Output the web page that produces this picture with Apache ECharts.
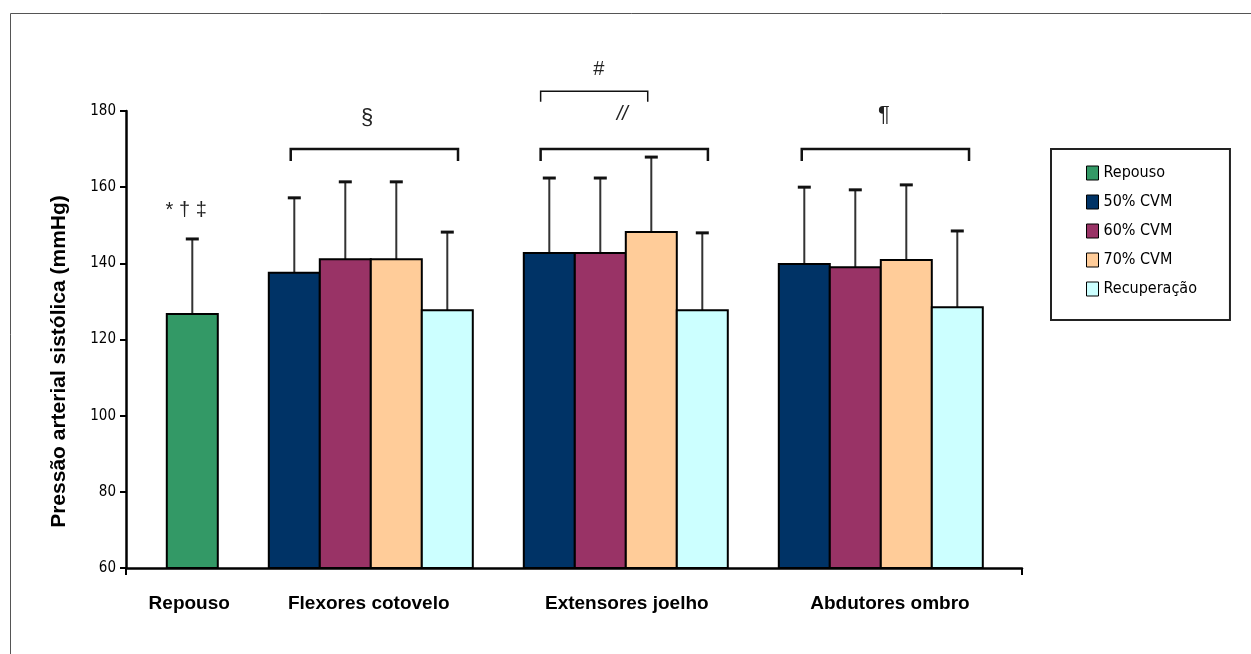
<!DOCTYPE html>
<html>
<head>
<meta charset="utf-8">
<script src="https://cdn.jsdelivr.net/npm/echarts@6/dist/echarts.min.js"></script>
<style>
html,body{margin:0;padding:0;background:#fff;}
#chart{width:1251px;height:654px;}
</style>
</head>
<body>
<div id="chart"></div>
<script>
// ---------- DATA ----------
const categories = ['Repouso', 'Flexores cotovelo', 'Extensores joelho', 'Abdutores ombro'];
const seriesNames = ['Repouso', '50% CVM', '60% CVM', '70% CVM', 'Recuperação'];
const repousoMean = [126.7];
const repousoSD = [19.7];
// order: Flexores cotovelo, Extensores joelho, Abdutores ombro
const cvm50Mean = [137.5, 142.7, 139.8];
const cvm50SD = [19.7, 19.7, 20.2];
const cvm60Mean = [141.1, 142.7, 139.0];
const cvm60SD = [20.3, 19.7, 20.3];
const cvm70Mean = [141.1, 148.2, 140.9];
const cvm70SD = [20.3, 19.7, 19.7];
const recMean = [127.7, 127.7, 128.5];
const recSD = [20.5, 20.3, 20.0];
const yTicks = [60, 80, 100, 120, 140, 160, 180];
const yAxisTitle = 'Pressão arterial sistólica (mmHg)';
const sigLabels = ['* † ‡', '§', '//', '#', '¶'];

// ---------- LAYOUT / STYLE ----------
const colors = ['#339966', '#003366', '#993366', '#FFCC99', '#CCFFFF'];
const GRID = {left: 126, right: 229, top: 111, bottom: 86};
const SLOT_PX = 51;
const X_MAX = (1251 - GRID.left - GRID.right) / SLOT_PX;
const GROUP_START = [0.8, 2.8, 7.8, 12.8];
const LABEL_POS = [1.24, 4.76, 9.82, 14.98];
// brackets: [xStart, xEnd, yLine, yTickEnd, lineWidth]
const BRACKETS = [
  [3.23, 6.51, 170.0, 166.9, 2.5],
  [8.13, 11.41, 170.0, 166.9, 2.5],
  [8.13, 10.23, 185.2, 182.4, 1.5],
  [13.25, 16.53, 170.0, 166.9, 2.5]
];
// sig labels: [x, y, fontSize]
const SIG_POS = [
  [1.18, 154.0, 20],
  [4.73, 178.2, 22],
  [9.73, 179.0, 20],
  [9.27, 191.0, 20],
  [14.86, 179.0, 22]
];
const NARROW = "'Liberation Sans Narrow', 'Arial Narrow', 'DejaVu Sans Condensed', sans-serif";
const BOLD = "'Liberation Sans', Arial, sans-serif";

// ---------- BUILD ----------
const means = [repousoMean, cvm50Mean, cvm60Mean, cvm70Mean, recMean];
const sds = [repousoSD, cvm50SD, cvm60SD, cvm70SD, recSD];

function barRender(params, api) {
  const x = api.value(0), m = api.value(1), sd = api.value(2);
  const w = api.size([1, 0])[0];
  const top = api.coord([x, m]);
  const base = api.coord([x, 60]);
  const err = api.coord([x, m + sd]);
  const color = api.visual('color');
  return {
    type: 'group',
    children: [
      {type: 'line', shape: {x1: top[0], y1: top[1], x2: top[0], y2: err[1]},
       style: {stroke: '#333', lineWidth: 2}},
      {type: 'line', shape: {x1: top[0] - 6.5, y1: err[1], x2: top[0] + 6.5, y2: err[1]},
       style: {stroke: '#111', lineWidth: 3}},
      {type: 'rect', shape: {x: top[0] - w / 2, y: top[1], width: w, height: base[1] - top[1]},
       style: {fill: color, stroke: '#000', lineWidth: 2}}
    ]
  };
}

const series = seriesNames.map((name, k) => {
  const data = means[k].map((m, i) => {
    const g = k === 0 ? 0 : i + 1;
    const slot = k === 0 ? 0 : k - 1;
    return [GROUP_START[g] + slot + 0.5, m, sds[k][i]];
  });
  return {
    name, type: 'custom', renderItem: barRender, data,
    itemStyle: {color: colors[k], borderColor: '#000', borderWidth: 1},
    encode: {x: 0, y: 1}, z: 2
  };
});

series.push({
  name: 'brackets', type: 'custom', silent: true, z: 3,
  data: BRACKETS,
  encode: {x: 0, y: 2},
  renderItem(params, api) {
    const a = api.coord([api.value(0), api.value(2)]);
    const b = api.coord([api.value(1), api.value(2)]);
    const t = api.coord([api.value(0), api.value(3)]);
    const lw = api.value(4);
    const st = {stroke: '#111', lineWidth: lw, fill: 'none'};
    return {type: 'polyline', shape: {points: [[a[0], t[1]], [a[0], a[1]], [b[0], b[1]], [b[0], t[1]]]}, style: st};
  }
});

series.push({
  name: 'sig', type: 'custom', silent: true, z: 3,
  data: SIG_POS.map((p, i) => [p[0], p[1], p[2], i]),
  encode: {x: 0, y: 1},
  renderItem(params, api) {
    const p = api.coord([api.value(0), api.value(1)]);
    const idx = api.value(3);
    return {type: 'text', style: {
      text: sigLabels[idx], x: p[0], y: p[1],
      align: 'center', verticalAlign: 'middle', textAlign: 'center', textVerticalAlign: 'middle',
      fontSize: api.value(2), fontStyle: idx === 2 ? 'italic' : 'normal',
      fontFamily: "'Liberation Sans', Arial, sans-serif", fill: '#222'
    }};
  }
});

const chart = echarts.init(document.getElementById('chart'));
chart.setOption({
  animation: false,
  backgroundColor: '#fff',
  graphic: [{type: 'rect', shape: {x: 10.5, y: 13.5, width: 1400, height: 900},
             style: {fill: 'none', stroke: '#555', lineWidth: 1}, z: 0}],
  grid: GRID,
  legend: {
    data: seriesNames, orient: 'vertical', left: 1051, top: 149,
    padding: [16, 33, 23, 35], itemGap: 13, itemWidth: 12, itemHeight: 14,
    icon: 'rect', borderColor: '#222', borderWidth: 2, selectedMode: false,
    textStyle: {fontFamily: NARROW, fontSize: 16, color: '#000'},
    itemStyle: {borderColor: '#000', borderWidth: 1}
  },
  xAxis: {
    type: 'value', min: 0, max: X_MAX, interval: X_MAX,
    axisLine: {show: true, lineStyle: {color: '#000', width: 2.5}},
    axisTick: {show: true, length: 7, customValues: [0, X_MAX], lineStyle: {color: '#000', width: 2}},
    splitLine: {show: false},
    axisLabel: {
      customValues: LABEL_POS, margin: 26,
      fontFamily: BOLD, fontWeight: 'bold', fontSize: 19, color: '#000',
      formatter: v => {
        let best = 0;
        LABEL_POS.forEach((p, i) => { if (Math.abs(p - v) < Math.abs(LABEL_POS[best] - v)) best = i; });
        return categories[best];
      }
    }
  },
  yAxis: {
    type: 'value', min: yTicks[0], max: yTicks[yTicks.length - 1], interval: 20,
    name: yAxisTitle, nameLocation: 'middle', nameGap: 56,
    nameTextStyle: {fontFamily: BOLD, fontWeight: 'bold', fontSize: 21, color: '#000', padding: [0, 44, 0, 0]},
    axisLine: {show: true, lineStyle: {color: '#000', width: 2.5}},
    axisTick: {show: true, length: 6, lineStyle: {color: '#000', width: 2}},
    splitLine: {show: false},
    axisLabel: {margin: 10, fontFamily: NARROW, fontSize: 15, color: '#000'}
  },
  series
});
</script>
</body>
</html>
